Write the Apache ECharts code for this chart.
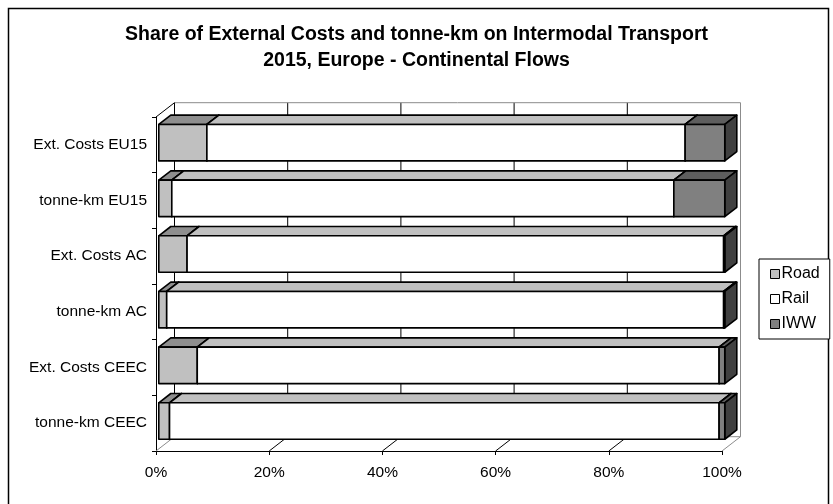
<!DOCTYPE html>
<html><head><meta charset="utf-8">
<script src="https://cdn.jsdelivr.net/npm/echarts@6/dist/echarts.min.js"></script>
<style>html,body{margin:0;padding:0;background:#fff}#c{width:833px;height:504px}</style>
</head><body><div id="c"></div>
<script>
// Shares (%) per row, top to bottom
const categories = ['Ext. Costs EU15', 'tonne-km EU15', 'Ext. Costs AC', 'tonne-km AC', 'Ext. Costs CEEC', 'tonne-km CEEC'];
const road = [8.5, 2.3, 5.0, 1.4, 6.8, 1.9];
const rail = [84.5, 88.7, 94.8, 98.4, 92.2, 97.1];
const iww  = [7.0, 9.0, 0.2, 0.2, 1.0, 1.0];
const xTicks = [0, 20, 40, 60, 80, 100];

const FONT = "'Liberation Sans', Arial, sans-serif";
// oblique depth of the 3-D plot box, in pixels
const WALL_DX = 18.5, WALL_DY = -14.3;
// bars occupy this slice of the depth
const BAR_F0 = 0.15, BAR_F1 = 0.8;
const BAR_RATIO = 0.655;

const palette = {
  Road: { front: '#C0C0C0', top: '#8E8E8E', side: '#7A7A7A' },
  Rail: { front: '#FFFFFF', top: '#C0C0C0', side: '#BDBDBD' },
  IWW:  { front: '#808080', top: '#5E5E5E', side: '#404040' }
};

// stacked [start, end, row] triples
function stackRows(list, before) {
  return list.map((v, i) => {
    const s = before.reduce((acc, arr) => acc + arr[i], 0);
    return [s, s + v, i];
  });
}

function boxRenderer(name) {
  const col = palette[name];
  return function (params, api) {
    const s = api.value(0), e = api.value(1), c = api.value(2);
    const p0 = api.coord([s, c]);
    const p1 = api.coord([e, c]);
    const band = api.size([0, 1])[1];
    const h = band * BAR_RATIO;
    const fx = WALL_DX * BAR_F0, fy = WALL_DY * BAR_F0;
    const bx = WALL_DX * (BAR_F1 - BAR_F0), by = WALL_DY * (BAR_F1 - BAR_F0);
    const x0 = p0[0] + fx, x1 = p1[0] + fx;
    const yt = p0[1] - h / 2 + fy, yb = p0[1] + h / 2 + fy;
    const line = { stroke: '#000', lineWidth: 1.6, lineJoin: 'round' };
    return {
      type: 'group',
      children: [
        { type: 'polygon', shape: { points: [[x0, yt], [x1, yt], [x1 + bx, yt + by], [x0 + bx, yt + by]] },
          style: Object.assign({ fill: col.top }, line) },
        { type: 'polygon', shape: { points: [[x1, yt], [x1 + bx, yt + by], [x1 + bx, yb + by], [x1, yb]] },
          style: Object.assign({ fill: col.side }, line) },
        { type: 'rect', shape: { x: x0, y: yt, width: x1 - x0, height: yb - yt },
          style: Object.assign({ fill: col.front }, line) }
      ]
    };
  };
}

// back wall, floor and left wall of the 3-D plot box
function frameRenderer(params, api) {
  const cs = params.coordSys;
  const top = cs.y, bottom = cs.y + cs.height;
  const xs = xTicks.map(t => api.coord([t, 0])[0]);
  const xl = xs[0], xr = xs[xs.length - 1];
  const children = [];
  children.push({ type: 'rect', shape: { x: xl + WALL_DX, y: top + WALL_DY, width: xr - xl, height: bottom - top },
    style: { fill: '#fff', stroke: null } });
  xs.forEach((x, i) => {
    const edge = i === xs.length - 1;
    children.push({ type: 'line', shape: { x1: x + WALL_DX, y1: top + WALL_DY, x2: x + WALL_DX, y2: bottom + WALL_DY },
      style: { stroke: edge ? '#8C8C8C' : '#000', lineWidth: 1 } });
    children.push({ type: 'line', shape: { x1: x, y1: bottom, x2: x + WALL_DX, y2: bottom + WALL_DY },
      style: { stroke: (edge || i === 0) ? '#8C8C8C' : '#000', lineWidth: 1 } });
  });
  children.push({ type: 'line', shape: { x1: xl + WALL_DX, y1: top + WALL_DY, x2: xr + WALL_DX, y2: top + WALL_DY },
    style: { stroke: '#8C8C8C', lineWidth: 1 } });
  children.push({ type: 'line', shape: { x1: xl + WALL_DX, y1: bottom + WALL_DY, x2: xr + WALL_DX, y2: bottom + WALL_DY },
    style: { stroke: '#8C8C8C', lineWidth: 1 } });
  children.push({ type: 'line', shape: { x1: xl, y1: top, x2: xl + WALL_DX, y2: top + WALL_DY },
    style: { stroke: '#000', lineWidth: 1 } });
  return { type: 'group', children: children };
}

const chart = echarts.init(document.getElementById('c'), null, { renderer: 'canvas' });
chart.setOption({
  animation: false,
  backgroundColor: '#fff',
  textStyle: { fontFamily: FONT },
  title: {
    text: 'Share of External Costs and tonne-km on Intermodal Transport\n2015, Europe - Continental Flows',
    left: 'center', top: 17,
    textStyle: { fontFamily: FONT, fontSize: 19.5, fontWeight: 'bold', color: '#000', lineHeight: 26 }
  },
  graphic: [{
    type: 'rect', left: 6, top: 6, silent: true,
    shape: { x: 0, y: 0, width: 820, height: 520 },
    style: { fill: null, stroke: '#000', lineWidth: 1.5 }
  }],
  legend: {
    orient: 'vertical', left: 759, top: 259,
    data: [
      { name: 'Road', itemStyle: { color: palette.Road.front } },
      { name: 'Rail', itemStyle: { color: palette.Rail.front } },
      { name: 'IWW', itemStyle: { color: palette.IWW.front } }
    ],
    icon: 'rect', itemWidth: 9, itemHeight: 9, itemGap: 9,
    itemStyle: { borderColor: '#000', borderWidth: 1 },
    backgroundColor: '#fff', borderColor: '#000', borderWidth: 1,
    padding: [7, 10, 7, 11],
    textStyle: { fontFamily: FONT, fontSize: 16, color: '#000', padding: [0, 0, 0, -3] }
  },
  grid: { left: 156, right: 111, top: 117, bottom: 53, containLabel: false },
  xAxis: {
    type: 'value', min: 0, max: 100, interval: 20,
    axisLine: { show: true, lineStyle: { color: '#000', width: 1 } },
    axisTick: { show: true, length: 4, lineStyle: { color: '#000' } },
    splitLine: { show: false },
    axisLabel: { formatter: '{value}%', margin: 14, color: '#000', fontSize: 15.5, fontFamily: FONT }
  },
  yAxis: {
    type: 'category', data: categories, inverse: true,
    axisLine: { show: true, lineStyle: { color: '#000', width: 1 } },
    axisTick: { show: true, length: 4, lineStyle: { color: '#000' } },
    axisLabel: { margin: 9, color: '#000', fontSize: 15.5, fontFamily: FONT }
  },
  series: [
    { type: 'custom', name: 'frame', renderItem: frameRenderer, data: [[0, 0, 0]],
      encode: { x: 0, y: 2 }, z: 1, silent: true },
    { type: 'custom', name: 'Road', renderItem: boxRenderer('Road'), data: stackRows(road, []),
      encode: { x: [0, 1], y: 2 }, itemStyle: { color: palette.Road.front }, z: 3 },
    { type: 'custom', name: 'Rail', renderItem: boxRenderer('Rail'), data: stackRows(rail, [road]),
      encode: { x: [0, 1], y: 2 }, itemStyle: { color: palette.Rail.front }, z: 4 },
    { type: 'custom', name: 'IWW', renderItem: boxRenderer('IWW'), data: stackRows(iww, [road, rail]),
      encode: { x: [0, 1], y: 2 }, itemStyle: { color: palette.IWW.front }, z: 5 }
  ]
});
</script>
</body></html>
